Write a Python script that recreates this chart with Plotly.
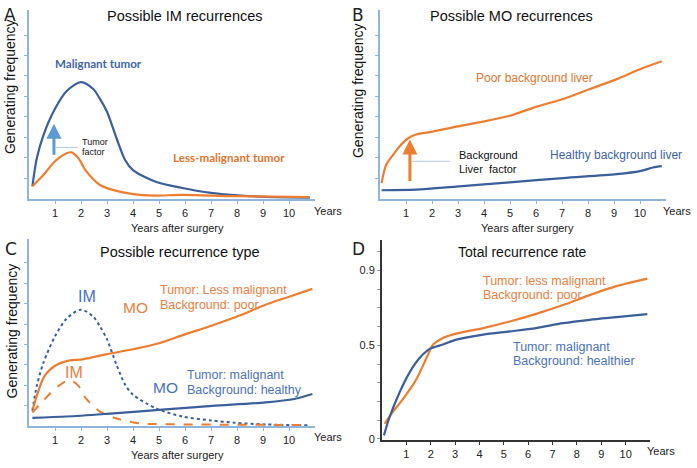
import plotly.graph_objects as go

W, H = 697, 468

ORANGE = "#ED7D31"
BLUE_LINE = "#3A5F9A"
LIGHT_BLUE = "#5B9BD5"
AXIS_BLUE = "#8FB6DE"
FONT = "Liberation Sans, Arial, sans-serif"

YEARS = list(range(1, 11))

# panel A: possible IM recurrences (arbitrary frequency units)
a_mal_x = [0.13, 0.3, 0.55, 1.0, 1.45, 2.0, 2.47, 2.73, 3.0, 3.37, 3.7, 4.0, 4.9, 5.9, 7.0, 7.9, 9.1, 10.8]
a_mal_y = [12.7, 41, 64, 91, 109, 118, 111, 101, 88, 61, 39, 29, 17, 11, 6, 3.7, 2, 1]
a_less_x = [0.13, 0.55, 1.0, 1.45, 1.64, 1.9, 2.2, 2.73, 3.37, 4.27, 4.9, 5.9, 7.9, 10.8]
a_less_y = [12.7, 24, 38, 46, 47, 41, 28, 14, 8, 4, 3.3, 4, 2.7, 1.7]

# panel B: possible MO recurrences
b_poor_x = [0.06, 0.23, 0.49, 0.75, 1.07, 1.39, 2.03, 2.93, 3.96, 4.99, 6.0, 7.04, 8.07, 9.1, 10.0, 10.84]
b_poor_y = [16, 34, 44, 53, 61, 65, 68, 73, 78, 84, 93, 101, 111, 121, 131, 139]
b_healthy_x = [0.06, 1.39, 2.93, 4.99, 7.04, 9.1, 10.0, 10.5, 10.84]
b_healthy_y = [8.7, 9.3, 12.3, 16.7, 21, 25, 28, 31.7, 33]

# panel C: possible recurrence type
c_mo_poor_x = [0.15, 0.6, 1.05, 1.45, 2.1, 3.0, 4.0, 5.0, 6.0, 7.05, 8.1, 9.1, 10.0, 10.9]
c_mo_poor_y = [17.7, 51, 62, 66, 68, 73, 78, 84, 93, 102, 112, 123, 131, 139]
c_mo_healthy_x = [0.13, 1.45, 3.0, 5.0, 7.05, 9.1, 10.2, 10.9]
c_mo_healthy_y = [8.7, 10, 12.7, 16.7, 20.7, 24.3, 27.7, 32.7]
c_im_mal_x = [0.13, 0.3, 0.55, 1.0, 1.45, 2.0, 2.47, 2.73, 3.0, 3.37, 3.7, 4.0, 4.9, 5.9, 7.0, 7.9, 9.1, 10.8]
c_im_mal_y = [16, 41, 64, 91, 109, 118, 111, 101, 88, 62, 42, 32, 18, 10, 6, 3.7, 2, 1]
c_im_less_x = [0.13, 0.55, 1.0, 1.45, 1.64, 1.9, 2.2, 2.73, 3.37, 4.27, 4.9, 5.9, 7.9, 10.8]
c_im_less_y = [14, 26, 38, 46, 46, 41, 28, 15, 8, 3, 2.3, 2, 1.7, 1.3]

# panel D: total recurrence rate
d_less_x = [0.11, 0.38, 0.86, 1.41, 1.83, 2.1, 2.5, 3.05, 4.15, 5.24, 6.33, 7.43, 8.52, 9.62, 10.89]
d_less_y = [0.081, 0.134, 0.213, 0.319, 0.433, 0.504, 0.539, 0.562, 0.592, 0.627, 0.668, 0.715, 0.768, 0.816, 0.856]
d_mal_x = [0.08, 0.31, 0.72, 1.13, 1.55, 1.96, 2.5, 3.05, 4.15, 5.24, 6.33, 7.43, 8.52, 9.62, 10.89]
d_mal_y = [0.019, 0.116, 0.248, 0.354, 0.433, 0.481, 0.504, 0.53, 0.557, 0.574, 0.592, 0.618, 0.636, 0.65, 0.666]
d_tick_vals = [round(0.1 * k, 1) for k in range(0, 11)]
d_tick_text = {0.0: "0", 0.5: "0.5", 0.9: "0.9"}


def px(x, y):
    return x / W, 1 - y / H


def dom_x(a, b):
    return [a / W, b / W]


def dom_y(top, bottom):
    return [1 - bottom / H, 1 - top / H]


def line(x, y, color, axis, dash="solid", width=2.2):
    return go.Scatter(
        x=x, y=y, mode="lines", xaxis="x" + axis, yaxis="y" + axis,
        line=dict(color=color, width=width, dash=dash, shape="spline", smoothing=0.8),
        showlegend=False, hoverinfo="skip",
    )


fig = go.Figure()
fig.add_trace(line(a_mal_x, a_mal_y, BLUE_LINE, ""))
fig.add_trace(line(a_less_x, a_less_y, ORANGE, ""))
fig.add_trace(line(b_poor_x, b_poor_y, ORANGE, "2"))
fig.add_trace(line(b_healthy_x, b_healthy_y, BLUE_LINE, "2"))
fig.add_trace(line(c_im_mal_x, c_im_mal_y, BLUE_LINE, "3", dash="dot", width=2))
fig.add_trace(line(c_im_less_x, c_im_less_y, ORANGE, "3", dash="dash", width=2))
fig.add_trace(line(c_mo_poor_x, c_mo_poor_y, ORANGE, "3"))
fig.add_trace(line(c_mo_healthy_x, c_mo_healthy_y, BLUE_LINE, "3"))
fig.add_trace(line(d_less_x, d_less_y, ORANGE, "4"))
fig.add_trace(line(d_mal_x, d_mal_y, BLUE_LINE, "4"))

freq_ticks = [20.7 * k for k in range(1, 9)]


def year_axis(domain, anchor, color=AXIS_BLUE, lw=1.6):
    return dict(
        domain=domain, anchor=anchor, range=[0, 11],
        tickvals=YEARS, ticks="outside", ticklen=3, tickcolor=color,
        showline=True, linecolor=color, linewidth=lw,
        showgrid=False, zeroline=False,
        tickfont=dict(family=FONT, size=11, color="#222"),
    )


def freq_axis(domain, anchor, top):
    return dict(
        domain=domain, anchor=anchor, range=[0, top],
        tickvals=freq_ticks, showticklabels=False, ticks="outside",
        ticklen=3, tickcolor=AXIS_BLUE,
        showline=True, linecolor=AXIS_BLUE, linewidth=1.6,
        showgrid=False, zeroline=False,
    )


fig.update_layout(
    width=W, height=H,
    margin=dict(l=0, r=0, t=0, b=0),
    paper_bgcolor="white", plot_bgcolor="white",
    font=dict(family=FONT, color="#111"),
    xaxis=year_axis(dom_x(29, 315), "y"),
    yaxis=freq_axis(dom_y(10, 201), "x", 191),
    xaxis2=year_axis(dom_x(380, 666), "y2"),
    yaxis2=freq_axis(dom_y(10, 201), "x2", 191),
    xaxis3=year_axis(dom_x(29, 315), "y3"),
    yaxis3=freq_axis(dom_y(242, 431), "x3", 189),
    xaxis4=year_axis(dom_x(382, 650), "y4", color="#333", lw=2),
    yaxis4=dict(
        domain=dom_y(243, 445), anchor="x4", range=[-0.007, 1.06],
        tickvals=d_tick_vals, ticktext=[d_tick_text.get(v, "") for v in d_tick_vals],
        ticks="outside", ticklen=3, tickcolor="#999",
        showline=True, linecolor="#333", linewidth=2,
        showgrid=False, zeroline=False,
        tickfont=dict(family=FONT, size=11, color="#222"),
    ),
)


def text(s, x, y, size, color="#111", anchor="center", angle=0, family=FONT):
    xp, yp = px(x, y)
    fig.add_annotation(
        text=s, x=xp, y=yp, xref="paper", yref="paper", showarrow=False,
        xanchor=anchor, yanchor="middle", textangle=angle,
        font=dict(family=family, size=size, color=color),
    )


# panel letters
for letter, x, y in [("A", 10, 15), ("B", 358, 15), ("C", 11, 252), ("D", 358, 252)]:
    text(letter, x, y, 17, "#222", family="DejaVu Sans, sans-serif")

# titles
text("Possible IM recurrences", 185, 16, 14.5)
text("Possible MO recurrences", 511, 16, 14.5)
text("Possible recurrence type", 180, 255, 14.5)
text("Total recurrence rate", 522, 255, 14)

# y-axis titles
text("Generating frequency", 10, 88, 14, angle=-90)
text("Generating frequency", 358, 92, 14, angle=-90)
text("Generating frequency", 12, 335, 14, angle=-90)

# x-axis end labels and titles
text("Years", 328, 213, 11, "#222")
text("Years", 677, 213, 11, "#222")
text("Years", 328, 442, 11, "#222")
text("Years", 661, 456, 11, "#222")
text("Years after surgery", 177, 230, 11, "#222")
text("Years after surgery", 527, 230, 11, "#222")
text("Years after surgery", 177, 460, 11, "#222")

# panel A labels
text("<b>Malignant tumor</b>", 53, 64, 11.6, "#3F65A8", anchor="left", family="Lato, sans-serif")
text("<b>Less-malignant tumor</b>", 171, 159, 11.6, "#E0762F", anchor="left", family="Lato, sans-serif")
text("Tumor", 80, 144, 9, anchor="left")
text("factor", 80, 154, 9, anchor="left")

# panel B labels
text("Poor background liver", 474, 79, 12, "#E0762F", anchor="left")
text("Healthy background liver", 548, 157, 12, "#4262A8", anchor="left")
text("Background", 457, 157, 11, anchor="left")
text("Liver  factor", 457, 171, 11, anchor="left")

# panel C labels
text("IM", 87, 300, 16, "#4A72C0")
text("MO", 135, 311, 15.5, "#E9803F")
text("Tumor: Less malignant", 158, 293, 12.5, "#E9803F", anchor="left")
text("Background: poor", 158, 308, 12.5, "#E9803F", anchor="left")
text("IM", 74, 377, 16, "#E9803F")
text("MO", 165, 392, 15.5, "#4A72C0")
text("Tumor: malignant", 185, 379, 12.5, "#4A72C0", anchor="left")
text("Background: healthy", 185, 394, 12.5, "#4A72C0", anchor="left")

# panel D labels
text("Tumor: less malignant", 481, 284, 12.5, "#E9803F", anchor="left")
text("Background: poor", 481, 298, 12.5, "#E9803F", anchor="left")
text("Tumor: malignant", 511, 351, 12.5, "#4A72C0", anchor="left")
text("Background: healthier", 511, 365, 12.5, "#4A72C0", anchor="left")

# factor arrows
fig.add_annotation(x=0.96, y=76, ax=0.96, ay=43, xref="x", yref="y", axref="x", ayref="y",
                   text="", showarrow=True, arrowhead=2, arrowsize=1, arrowwidth=3,
                   arrowcolor=LIGHT_BLUE)
fig.add_annotation(x=1.15, y=60, ax=1.15, ay=16.5, xref="x2", yref="y2", axref="x2", ayref="y2",
                   text="", showarrow=True, arrowhead=2, arrowsize=1, arrowwidth=3,
                   arrowcolor=ORANGE)
fig.add_shape(type="line", xref="x", yref="y", x0=1.04, x1=1.88, y0=52, y1=52,
              line=dict(color="#B4C8DD", width=1))
fig.add_shape(type="line", xref="x2", yref="y2", x0=1.22, x1=2.69, y0=38, y1=38,
              line=dict(color="#B4C8DD", width=1))

# the page body has a default 8px margin; drop it so the figure fills the window
fig.write_html("out.html", config={"displayModeBar": False},
               post_script="document.body.style.margin = '0';")
